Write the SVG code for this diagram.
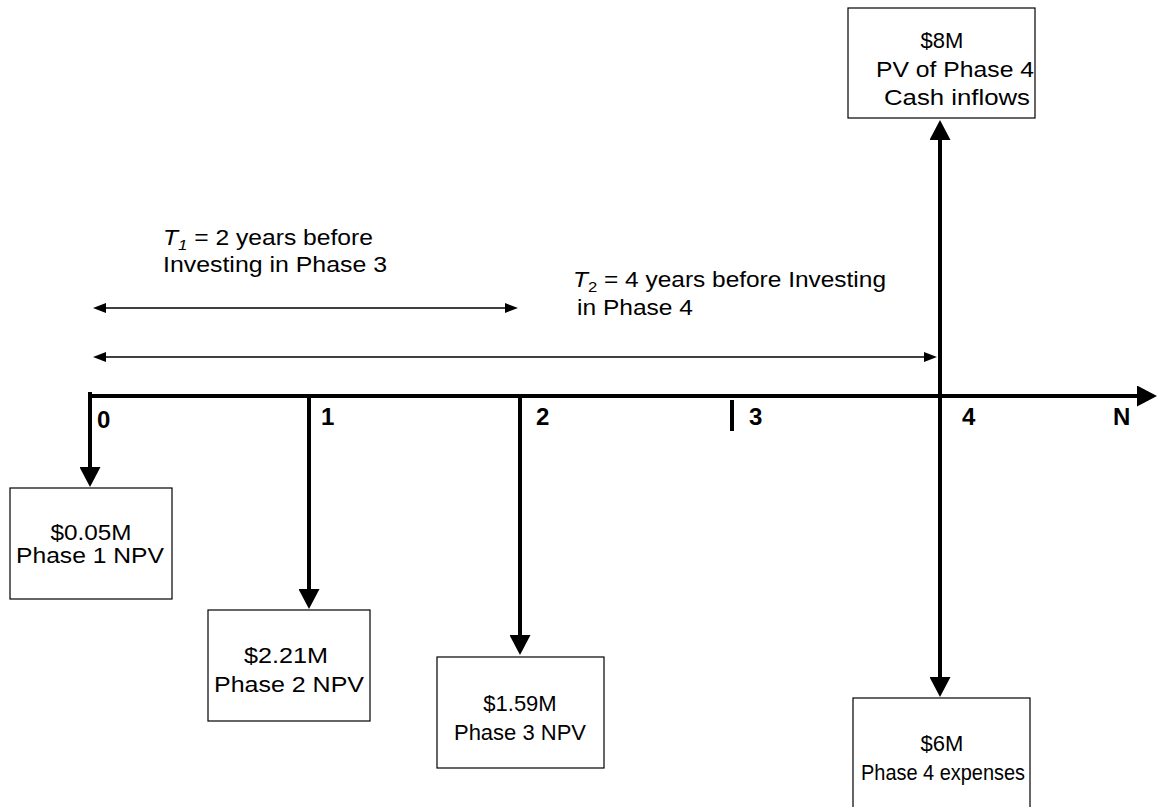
<svg xmlns="http://www.w3.org/2000/svg" width="1164" height="807" viewBox="0 0 1164 807">
<style>
text{font-family:"Liberation Sans",Arial,sans-serif;fill:#000}
.box{fill:#fff;stroke:#000;stroke-width:1.2}
.lbl{font-size:22px;text-anchor:middle}
.tick{font-size:24px;font-weight:bold}
.note{font-size:22px}
.thick{stroke:#000;stroke-width:4;fill:none}
.thin{stroke:#000;stroke-width:1.5;fill:none}
</style>
<defs>
<marker id="ah" markerUnits="userSpaceOnUse" markerWidth="20" markerHeight="21" refX="12" refY="10.5" orient="auto">
<path d="M0,0 L20,10.5 L0,21 Z" fill="#000"/>
</marker>
<marker id="ahs" markerUnits="userSpaceOnUse" markerWidth="13" markerHeight="10" refX="10" refY="5" orient="auto-start-reverse">
<path d="M0,0 L13,5 L0,10 Z" fill="#000"/>
</marker>
</defs>
<rect width="1164" height="807" fill="#fff"/>
<g id="connectors">
<path class="thick" d="M90,396 H1149" marker-end="url(#ah)"/>
<path class="thick" d="M90,394 V479" marker-end="url(#ah)" stroke-linecap="square"/>
<path class="thick" d="M309,396 V601" marker-end="url(#ah)"/>
<path class="thick" d="M520,396 V647" marker-end="url(#ah)"/>
<path class="thick" d="M940,396 V689" marker-end="url(#ah)"/>
<path class="thick" d="M940,396 V128" marker-end="url(#ah)"/>
<path class="thick" d="M732,400 V431"/>
<path class="thin" d="M96,308 H515" marker-start="url(#ahs)" marker-end="url(#ahs)"/>
<path class="thin" d="M96,357 H934" marker-start="url(#ahs)" marker-end="url(#ahs)"/>
</g>
<g id="axis-labels">
<text class="tick" x="97" y="428">0</text>
<text class="tick" x="321" y="425">1</text>
<text class="tick" x="536" y="425">2</text>
<text class="tick" x="749" y="425">3</text>
<text class="tick" x="962" y="425">4</text>
<text class="tick" x="1113" y="425">N</text>
</g>
<g id="t1">
<text class="note" x="163" y="245" textLength="210" lengthAdjust="spacingAndGlyphs"><tspan font-style="italic">T</tspan><tspan font-style="italic" font-size="15" dy="5">1</tspan><tspan dy="-5"> = 2 years before</tspan></text>
<text class="note" x="163" y="272" textLength="224" lengthAdjust="spacingAndGlyphs">Investing in Phase 3</text>
</g>
<g id="t2">
<text class="note" x="573" y="287" textLength="313" lengthAdjust="spacingAndGlyphs"><tspan font-style="italic">T</tspan><tspan font-size="15" dy="5">2</tspan><tspan dy="-5"> = 4 years before Investing</tspan></text>
<text class="note" x="577" y="315" textLength="116" lengthAdjust="spacingAndGlyphs">in Phase 4</text>
</g>
<g id="node-phase1">
<rect class="box" x="10" y="488" width="162" height="111"/>
<text class="lbl" x="91" y="540" textLength="81" lengthAdjust="spacingAndGlyphs">$0.05M</text>
<text class="lbl" x="90" y="563" textLength="148" lengthAdjust="spacingAndGlyphs">Phase 1 NPV</text>
</g>
<g id="node-phase2">
<rect class="box" x="208" y="610" width="162" height="111"/>
<text class="lbl" x="286" y="663" textLength="84" lengthAdjust="spacingAndGlyphs">$2.21M</text>
<text class="lbl" x="289" y="692" textLength="150" lengthAdjust="spacingAndGlyphs">Phase 2 NPV</text>
</g>
<g id="node-phase3">
<rect class="box" x="437" y="657" width="167" height="111"/>
<text class="lbl" x="520" y="711">$1.59M</text>
<text class="lbl" x="520" y="740">Phase 3 NPV</text>
</g>
<g id="node-phase4-inflows">
<rect class="box" x="848" y="8" width="187" height="110"/>
<text class="lbl" x="942" y="48">$8M</text>
<text class="lbl" x="955" y="77" textLength="158" lengthAdjust="spacingAndGlyphs">PV of Phase 4</text>
<text class="lbl" x="957" y="105" textLength="146" lengthAdjust="spacingAndGlyphs">Cash inflows</text>
</g>
<g id="node-phase4-expenses">
<rect class="box" x="853" y="698" width="177" height="120"/>
<text class="lbl" x="942" y="751">$6M</text>
<text class="lbl" x="943" y="780" font-size="21" textLength="164" lengthAdjust="spacingAndGlyphs">Phase 4 expenses</text>
</g>
</svg>
